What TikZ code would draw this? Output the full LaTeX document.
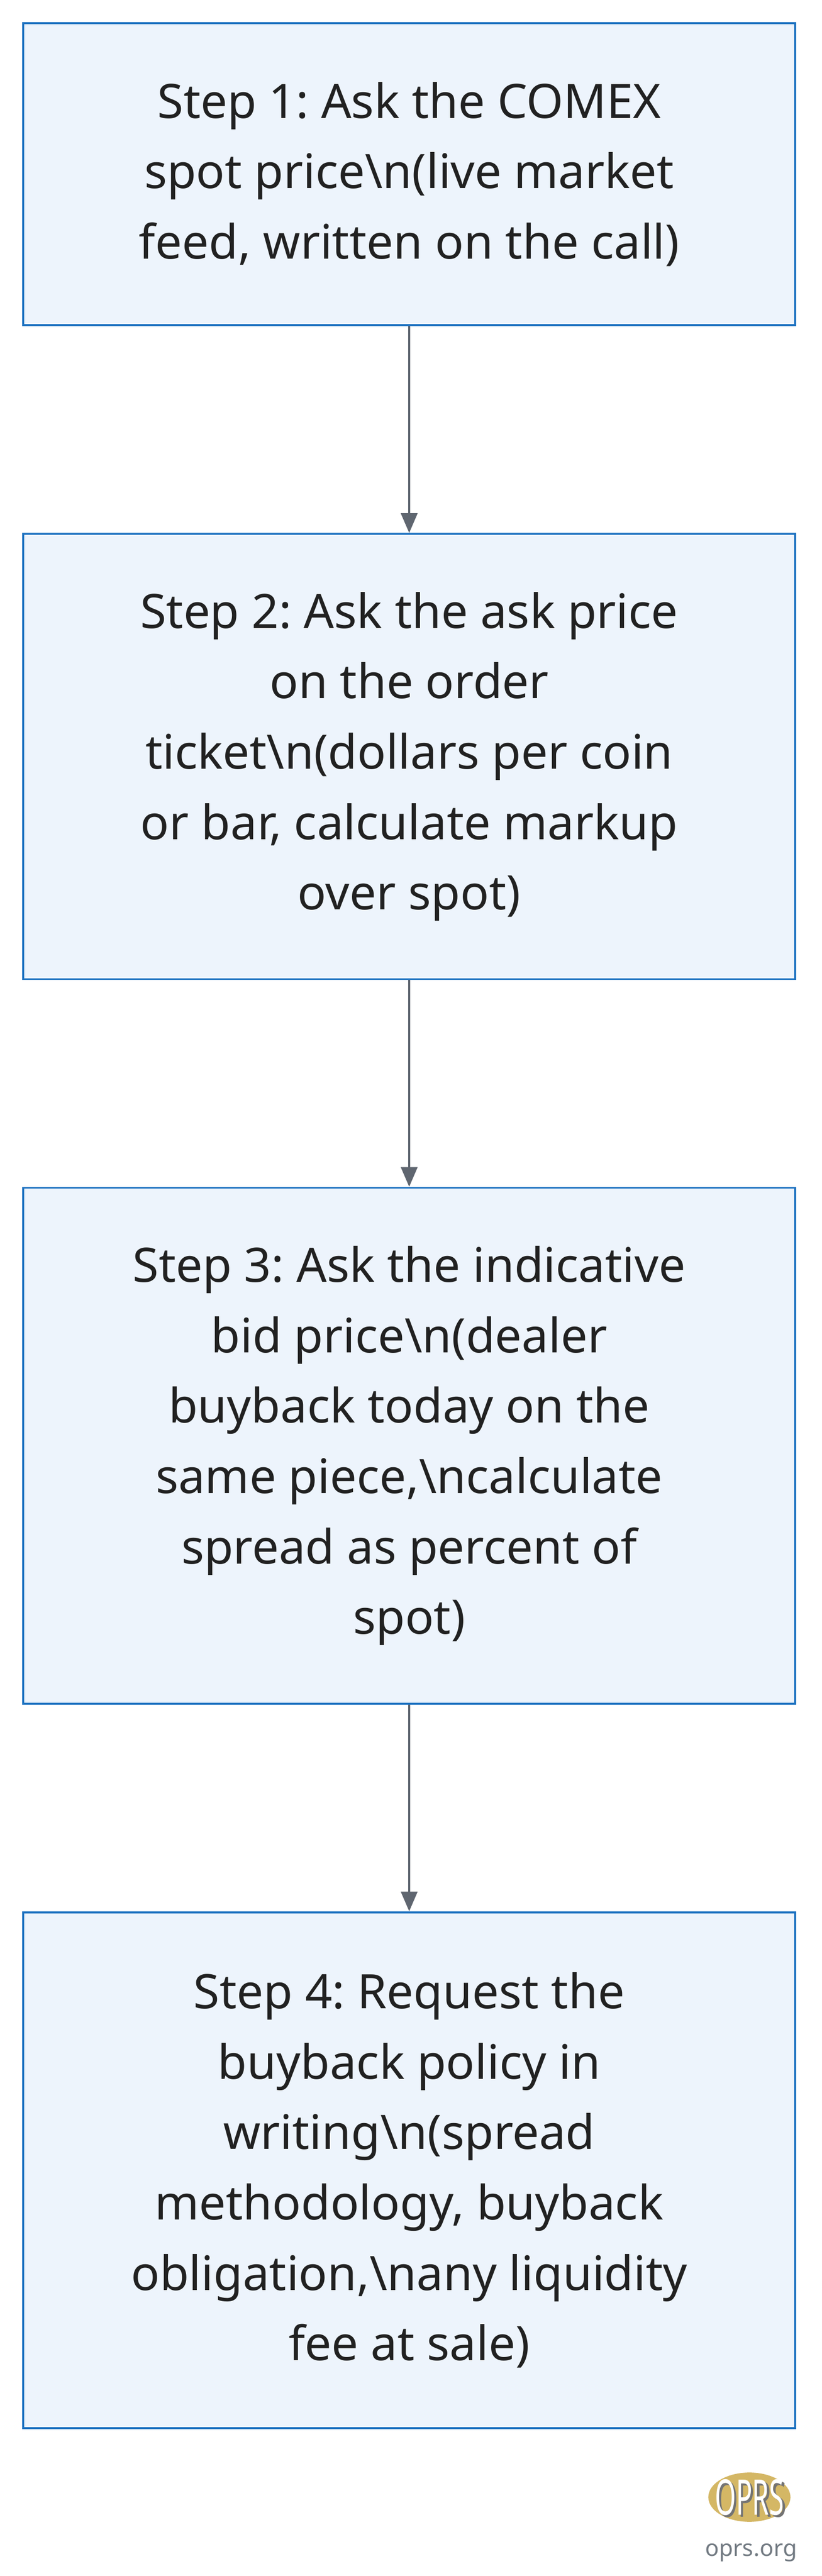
\documentclass[tikz,border=0pt]{standalone}
\usepackage{fontspec}
\setmainfont{Noto Sans}
\usetikzlibrary{arrows.meta}
\usetikzlibrary{shapes.geometric}
\definecolor{boxfill}{HTML}{EDF4FC}
\definecolor{boxline}{HTML}{1F73C1}
\definecolor{arrowgray}{HTML}{5F6670}
\definecolor{logogold}{HTML}{D4B765}
\definecolor{logotext}{HTML}{727A82}
\frenchspacing
\begin{document}
\begin{tikzpicture}[x=1bp,y=-1bp,
    stepbox/.style={draw=boxline, line width=1.2bp, fill=boxfill, minimum width=470bp,
        align=center, inner sep=0pt,
        font=\fontsize{29}{43}\selectfont, text=black!87},
    flow/.style={draw=arrowgray, line width=1.2bp, -{Triangle[length=12bp,width=10bp]}}]
        \useasboundingbox (0,0) rectangle (500,1568);
        % steps
        \node[stepbox, minimum height=184bp] (s1) at (249,106) {Step 1: Ask the COMEX\\spot price\textbackslash n(live market\\feed, written on the call)};
        \node[stepbox, minimum height=271bp] (s2) at (249,460.5) {Step 2: Ask the ask price\\on the order\\ticket\textbackslash n(dollars per coin\\or bar, calculate markup\\over spot)};
        \node[stepbox, minimum height=314bp] (s3) at (249,880) {Step 3: Ask the indicative\\bid price\textbackslash n(dealer\\buyback today on the\\same piece,\textbackslash ncalculate\\spread as percent of\\spot)};
        \node[stepbox, minimum height=314bp] (s4) at (249,1321) {Step 4: Request the\\buyback policy in\\writing\textbackslash n(spread\\methodology, buyback\\obligation,\textbackslash nany liquidity\\fee at sale)};
        \draw[flow] (s1) -- (s2);
        \draw[flow] (s2) -- (s3);
        \draw[flow] (s3) -- (s4);
        % logo
        \node[ellipse, fill=logogold, minimum width=50bp, minimum height=30bp, inner sep=0pt] (logo) at (456,1520) {};
        \node[text=black!55, font=\fontsize{30}{30}\selectfont\bfseries, xscale=0.55] at (457.5,1521.5) {OPRS};
        \node[text=white, font=\fontsize{30}{30}\selectfont\bfseries, xscale=0.55] (logotxt) at (456,1520) {OPRS};
        \node[text=logotext, font=\fontsize{14}{14}\selectfont, anchor=base] (site) at (457,1556) {oprs.org};
\end{tikzpicture}
\end{document}
